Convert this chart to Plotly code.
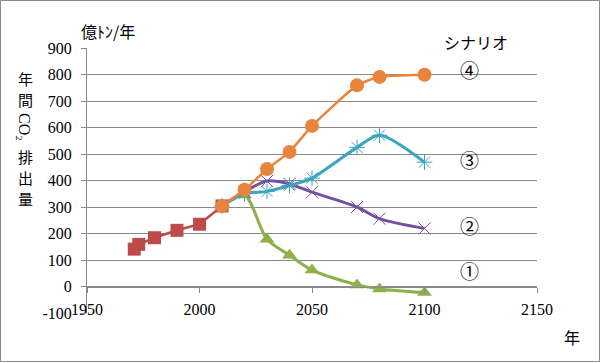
import plotly.graph_objects as go

# ---- data ----
hist_years = [1971, 1973, 1980, 1990, 2000, 2010]
hist_vals = [141, 159, 184, 212, 235, 304]

scen_years = [2010, 2020, 2030, 2040, 2050, 2070, 2080, 2100]
scen1 = [304, 345, 178, 118, 62, 6, -9, -23]      # ①
scen2 = [304, 358, 398, 387, 356, 300, 256, 219]  # ②
scen3 = [304, 350, 359, 381, 409, 525, 571, 469]  # ③
scen4 = [304, 365, 443, 508, 606, 759, 791, 799]  # ④

scen_labels = ["①", "②", "③", "④"]
scen_label_x = [2120, 2120, 2120, 2120]
scen_label_y = [62, 231, 481, 818]

x_ticks = [1950, 2000, 2050, 2100, 2150]
y_ticks = [-100, 0, 100, 200, 300, 400, 500, 600, 700, 800, 900]
y_ticktext = ["-100", "0", "100", "200", "300", "400", "500", "600", "700", "800", "900"]

# ---- styling ----
W, H = 600, 363
ML, MR, MT, MB = 87, 63, 48, 50
PW, PH = W - ML - MR, H - MT - MB
GRID = "#8a8a8a"
NUMFONT = "Liberation Serif, serif"
JPFONT = "Noto Sans CJK JP"

RED = "#BE4B48"
GREEN = "#8DB04B"
PURPLE = "#7252A0"
TEAL = "#3CA3C0"
ORANGE = "#E8843C"


def px(xp):
    return (xp - ML) / PW


def py(yp):
    return (H - MB - yp) / PH


fig = go.Figure()

fig.add_trace(go.Scatter(
    x=hist_years, y=hist_vals, mode="lines+markers",
    line=dict(color=RED, width=2.5),
    marker=dict(symbol="square", size=13, color=RED),
))
fig.add_trace(go.Scatter(
    x=scen_years, y=scen1, mode="lines+markers",
    line=dict(color=GREEN, width=3, shape="spline", smoothing=0.8),
    marker=dict(symbol="triangle-up", size=13, color=GREEN),
))
fig.add_trace(go.Scatter(
    x=scen_years, y=scen2, mode="lines+markers",
    line=dict(color=PURPLE, width=3, shape="spline", smoothing=0.8),
    marker=dict(symbol="x-thin-open", size=12, color=PURPLE,
                line=dict(color=PURPLE, width=1)),
))
fig.add_trace(go.Scatter(
    x=scen_years, y=scen3, mode="lines+markers",
    line=dict(color=TEAL, width=3, shape="spline", smoothing=0.8),
    marker=dict(symbol="asterisk-open", size=13, color=TEAL,
                line=dict(color=TEAL, width=1)),
))
fig.add_trace(go.Scatter(
    x=scen_years, y=scen4, mode="lines+markers",
    line=dict(color=ORANGE, width=2.5, shape="spline", smoothing=0.5),
    marker=dict(symbol="circle", size=14, color=ORANGE),
))


def ann(x, y, text, size, family=JPFONT, xref="paper", yref="paper", **kw):
    d = dict(x=x, y=y, xref=xref, yref=yref, text=text, showarrow=False,
             xanchor="center", yanchor="middle",
             font=dict(family=family, size=size, color="black"))
    d.update(kw)
    return d


annotations = []
for lab, lx, ly in zip(scen_labels, scen_label_x, scen_label_y):
    annotations.append(ann(lx, ly, lab, 19, xref="x", yref="y"))

annotations += [
    ann(px(108), py(31), "億ﾄﾝ/年", 16),
    ann(px(476), py(42), "シナリオ", 16),
    ann(px(572), py(337), "年", 16),
]
# vertical y-axis title: 年間CO₂排出量
for ch, yy in [("年", 78), ("間", 100), ("排", 156), ("出", 177), ("量", 198)]:
    annotations.append(ann(px(25), py(yy), ch, 15))
annotations.append(ann(px(25), py(127), "CO₂", 16, family=NUMFONT, textangle=90))

fig.update_layout(
    width=W, height=H,
    margin=dict(l=ML, r=MR, t=MT, b=MB),
    paper_bgcolor="white", plot_bgcolor="white",
    showlegend=False,
    hovermode=False,
    annotations=annotations,
    shapes=[dict(type="rect", xref="paper", yref="paper",
                 x0=px(0.5), x1=px(599.5), y0=py(361.5), y1=py(0.5),
                 line=dict(color="#8a8a8a", width=1), layer="below")],
    xaxis=dict(
        range=[1950, 2150], tickvals=x_ticks, ticktext=[str(v) for v in x_ticks],
        anchor="free", position=0.1,
        showline=True, linecolor=GRID, linewidth=1,
        ticks="outside", ticklen=5, tickcolor=GRID,
        showgrid=False, zeroline=False,
        tickfont=dict(family=NUMFONT, size=16, color="black"),
        ticklabelstandoff=3,
    ),
    yaxis=dict(
        range=[-100, 900], tickvals=y_ticks, ticktext=y_ticktext,
        showline=True, linecolor=GRID, linewidth=1,
        ticks="outside", ticklen=5, tickcolor=GRID,
        showgrid=True, gridcolor=GRID, gridwidth=1, zeroline=False,
        tickfont=dict(family=NUMFONT, size=16, color="black"),
        ticklabelstandoff=6,
    ),
)

fig.write_html(
    "out.html",
    config={"displayModeBar": False},
    post_script="document.body.style.margin='0';document.body.style.padding='0';"
                "document.documentElement.style.overflow='hidden';",
)
